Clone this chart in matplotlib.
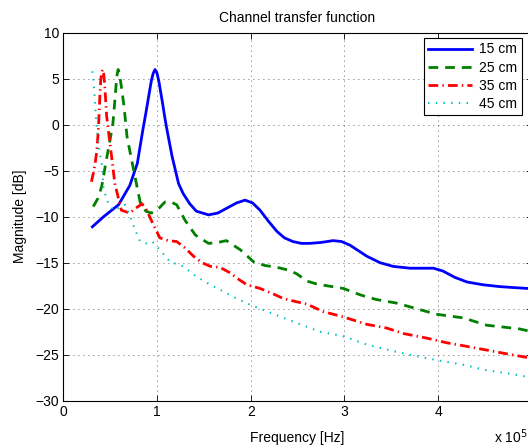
import matplotlib
matplotlib.use('Agg')
import matplotlib.pyplot as plt

plt.rcParams['font.family'] = ['Liberation Sans', 'DejaVu Sans']
plt.rcParams['font.size'] = 10

# frequency in units of 1e5 Hz, magnitude in dB
f15 = [0.31, 0.43, 0.59, 0.71, 0.79, 0.85, 0.88, 0.90, 0.92, 0.94, 0.96, 0.979, 1.00,
       1.02, 1.04, 1.06, 1.08, 1.10, 1.16, 1.23, 1.28, 1.35, 1.42, 1.55, 1.65, 1.74,
       1.85, 1.94, 2.02, 2.10, 2.19, 2.28, 2.36, 2.45, 2.54, 2.63, 2.75, 2.88, 2.97,
       3.06, 3.15, 3.24, 3.38, 3.52, 3.70, 3.85, 3.95, 4.05, 4.18, 4.31, 4.48, 4.66,
       4.80, 4.96, 5.0]
m15 = [-11.1, -10.0, -8.7, -6.6, -4.2, -0.5, 1.2, 2.4, 3.6, 4.8, 5.6, 6.0, 5.6,
       4.7, 3.5, 2.3, 1.0, -0.2, -3.4, -6.4, -7.5, -8.6, -9.4, -9.8, -9.6, -9.1,
       -8.5, -8.2, -8.5, -9.3, -10.5, -11.6, -12.3, -12.7, -12.9, -12.9, -12.8, -12.6, -12.7,
       -13.1, -13.7, -14.3, -15.0, -15.4, -15.6, -15.6, -15.6, -15.9, -16.6, -17.1, -17.4, -17.6,
       -17.7, -17.8, -17.8]

f25 = [0.32, 0.37, 0.41, 0.46, 0.50, 0.53, 0.55, 0.565, 0.575, 0.585, 0.595, 0.61, 0.63,
       0.65, 0.68, 0.75, 0.82, 0.88, 0.94, 1.01, 1.085, 1.15, 1.21, 1.30, 1.41, 1.55,
       1.65, 1.74, 1.89, 2.03, 2.15, 2.28, 2.40, 2.49, 2.60, 2.70, 2.81, 2.99, 3.17,
       3.34, 3.56, 3.77, 3.98, 4.27, 4.52, 4.70, 4.87, 5.0]
m25 = [-8.9, -8.0, -6.7, -3.8, -1.6, 0.2, 2.6, 4.5, 5.5, 6.0, 5.7, 4.8, 3.4,
       1.8, -1.3, -4.9, -8.4, -9.4, -9.6, -9.2, -8.4, -8.4, -8.7, -10.4, -12.0, -12.9,
       -12.8, -12.6, -13.6, -14.9, -15.3, -15.5, -15.8, -16.2, -17.0, -17.3, -17.5, -17.8, -18.5,
       -19.0, -19.4, -20.0, -20.6, -21.0, -21.8, -22.0, -22.2, -22.5]

f35 = [0.30, 0.32, 0.34, 0.357, 0.374, 0.39, 0.40, 0.41, 0.42, 0.43, 0.44, 0.45, 0.463,
       0.49, 0.516, 0.55, 0.62, 0.71, 0.77, 0.84, 0.89, 0.94, 1.03, 1.12, 1.21, 1.30,
       1.39, 1.48, 1.57, 1.67, 1.78, 1.87, 1.96, 2.10, 2.22, 2.35, 2.47, 2.60, 2.77,
       2.99, 3.24, 3.45, 3.63, 3.88, 4.09, 4.31, 4.52, 4.73, 4.95, 5.0]
m35 = [-6.2, -5.3, -4.2, -2.9, -0.6, 3.0, 4.9, 5.7, 6.0, 5.6, 4.6, 3.0, 0.9,
       -1.4, -3.5, -6.4, -9.3, -9.6, -9.1, -8.6, -9.3, -10.4, -12.3, -12.6, -12.7, -13.4,
       -14.3, -15.0, -15.4, -15.5, -16.1, -16.8, -17.4, -17.8, -18.3, -18.9, -19.2, -19.5, -20.3,
       -20.9, -21.7, -22.1, -22.7, -23.2, -23.7, -24.1, -24.5, -24.9, -25.3, -25.4]

f45 = [0.31, 0.32, 0.335, 0.35, 0.374, 0.39, 0.41, 0.427, 0.463, 0.53, 0.60, 0.66, 0.73,
       0.765, 0.82, 0.89, 0.95, 1.03, 1.14, 1.28, 1.42, 1.57, 1.74, 1.85, 2.00, 2.15,
       2.30, 2.53, 2.74, 2.99, 3.24, 3.52, 3.74, 3.99, 4.27, 4.52, 4.73, 4.95, 5.0]
m45 = [5.8, 5.0, 3.0, 0.5, -2.0, -3.2, -4.2, -6.7, -8.2, -9.3, -9.0, -8.7, -10.4,
       -11.4, -12.7, -12.9, -12.7, -13.6, -14.9, -15.4, -16.5, -17.4, -18.3, -18.9, -19.6, -20.2,
       -20.8, -21.7, -22.5, -23.0, -23.9, -24.6, -25.1, -25.6, -26.1, -26.7, -27.0, -27.4, -27.5]

labels = ['15 cm', '25 cm', '35 cm', '45 cm']
xticks = [0, 1, 2, 3, 4, 5]
xticklabels = ['0', '1', '2', '3', '4', '']  # the "5" falls off the right edge
yticks = [-30, -25, -20, -15, -10, -5, 0, 5, 10]

fig = plt.figure(figsize=(5.28, 4.45), dpi=100)
# the axes run past the right edge of the picture, as in the reference
ax = fig.add_axes([63.3 / 528, 1 - 400.7 / 445, 468.5 / 528, 368 / 445])

ax.plot(f15, m15, color='#0000ff', linewidth=2.0, linestyle='-', label=labels[0])
ax.plot(f25, m25, color='#008000', linewidth=2.0, linestyle=(0, (3.5, 2.5)), label=labels[1])
ax.plot(f35, m35, color='#ff0000', linewidth=2.0, linestyle=(0, (3.5, 1.5, 0.5, 1.5)), label=labels[2])
ax.plot(f45, m45, color='#00bfbf', linewidth=1.5, linestyle=(0, (0.7, 3.0)), label=labels[3])

ax.set_xlim(0, 5)
ax.set_ylim(-30, 10)
ax.set_xticks(xticks)
ax.set_xticklabels(xticklabels)
ax.set_yticks(yticks)
ax.tick_params(direction='in', length=4, width=0.6, top=True, right=True, pad=3)
ax.grid(True, linestyle=(0, (1, 5)), color='#333333', linewidth=0.6)
for s in ax.spines.values():
    s.set_linewidth(0.8)

ax.set_title('Channel transfer function', fontsize=10, pad=8)
ax.set_xlabel('Frequency [Hz]', fontsize=10, labelpad=9)
ax.set_ylabel('Magnitude [dB]', fontsize=10, labelpad=6)

# exponent note, nudged left so it stays inside the picture
fig.text(494 / 528, 1 - 443 / 445, 'x 10$^5$', fontsize=10, ha='left', va='baseline')

leg = ax.legend(loc='upper right', bbox_to_anchor=(521.7 / 528, 1 - 38.3 / 445),
                bbox_transform=fig.transFigure, borderaxespad=0, fancybox=False,
                edgecolor='black', framealpha=1, fontsize=10, handlelength=3.2,
                labelspacing=0.3, borderpad=0.3, handletextpad=0.5)
leg.get_frame().set_linewidth(0.8)

fig.savefig('out.png', dpi=100)
